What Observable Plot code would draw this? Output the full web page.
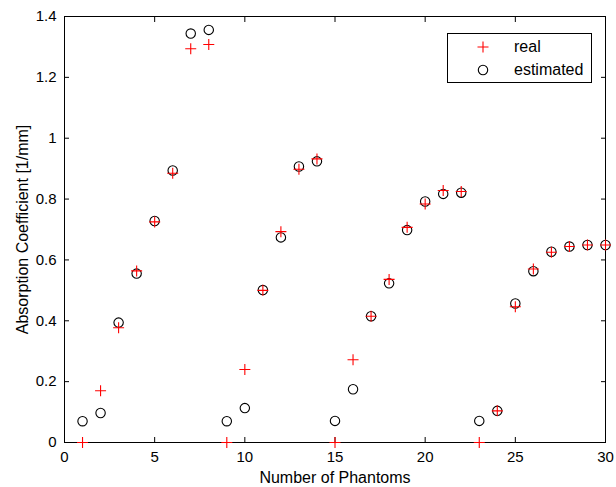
<!DOCTYPE html>
<html>
<head>
<meta charset="utf-8">
<script src="https://cdn.jsdelivr.net/npm/d3@7"></script>
<script src="https://cdn.jsdelivr.net/npm/@observablehq/plot@0.6"></script>
<style>
  html, body { margin: 0; padding: 0; background: #fff; }
  body { font-family: "Liberation Sans", Arial, Helvetica, sans-serif; color: #000; }
  #wrap { position: relative; width: 616px; height: 487px; }
  #legend { position: absolute; left: 447px; top: 33px; width: 143px; height: 48px;
            border: 1px solid #000; background: #fff; font-size: 16px; }
  #legend .row { position: absolute; left: 0; height: 20px; display: flex; align-items: center; }
  #legend svg { position: absolute; left: 25px; }
  #legend span { position: absolute; left: 66px; white-space: nowrap; line-height: 20px; }
</style>
</head>
<body>
<div id="wrap"></div>
<script>
// ---- data ----
const phantoms = [1,2,3,4,5,6,7,8,9,10,11,12,13,14,15,16,17,18,19,20,21,22,23,24,25,26,27,28,29,30];
const real = [0, 0.17, 0.377, 0.564, 0.725, 0.885, 1.294, 1.308, 0, 0.24,
              0.50, 0.693, 0.898, 0.932, 0, 0.272, 0.415, 0.536, 0.707, 0.784,
              0.828, 0.825, 0, 0.104, 0.446, 0.570, 0.625, 0.644, 0.649, 0.649];
const estimated = [0.070, 0.097, 0.394, 0.555, 0.728, 0.894, 1.344, 1.356, 0.070, 0.113,
                   0.501, 0.674, 0.907, 0.924, 0.071, 0.175, 0.415, 0.523, 0.698, 0.792,
                   0.817, 0.821, 0.071, 0.104, 0.457, 0.563, 0.627, 0.644, 0.649, 0.649];
const seriesNames = ["real", "estimated"];
const xTicks = [0, 5, 10, 15, 20, 25, 30];
const yTicks = [0, 0.2, 0.4, 0.6, 0.8, 1.0, 1.2, 1.4];
const yTickLabels = ["0", "0.2", "0.4", "0.6", "0.8", "1", "1.2", "1.4"];
const xLabel = "Number of Phantoms";
const yLabel = "Absorption Coefficient [1/mm]";

const realData = phantoms.map((p, i) => ({p, v: real[i]}));
const estData = phantoms.map((p, i) => ({p, v: estimated[i]}));

const plusSymbol = {
  draw(context, size) {
    const r = Math.sqrt(size / Math.PI);
    context.moveTo(-r, 0); context.lineTo(r, 0);
    context.moveTo(0, -r); context.lineTo(0, r);
  }
};

const fontFamily = '"Liberation Sans", Arial, Helvetica, sans-serif';

const chart = Plot.plot({
  width: 616,
  height: 487,
  marginLeft: 64,
  marginRight: 11,
  marginTop: 16,
  marginBottom: 45,
  style: { fontFamily, fontSize: "15px", background: "#fff", color: "#000" },
  x: { domain: [0, 30], ticks: xTicks },
  y: { domain: [0, 1.4], ticks: yTicks },
  marks: [
    Plot.frame({ stroke: "#000", strokeWidth: 1 }),
    // bottom axis: ticks + tick labels
    Plot.axisX(xTicks, { anchor: "bottom", tickSize: -5, tickPadding: 14, label: null, fontSize: 15 }),
    // bottom axis title
    Plot.axisX([], { anchor: "bottom", tickSize: 0, label: xLabel,
      labelAnchor: "center", labelArrow: "none", labelOffset: 40, fontSize: 16 }),
    Plot.axisX(xTicks, { anchor: "top", tickSize: -5, tickFormat: () => "", label: null }),
    // left axis: ticks + tick labels
    Plot.axisY(yTicks, { anchor: "left", tickSize: -5, tickPadding: 13,
      tickFormat: (d, i) => yTickLabels[i], label: null, fontSize: 15 }),
    // left axis title
    Plot.axisY([], { anchor: "left", tickSize: 0, label: yLabel,
      labelAnchor: "center", labelArrow: "none", labelOffset: 48, fontSize: 16 }),
    Plot.axisY(yTicks, { anchor: "right", tickSize: -5, tickFormat: () => "", label: null }),
    Plot.dot(estData, { x: "p", y: "v", r: 4.7, stroke: "#000", fill: "none", strokeWidth: 1.1 }),
    Plot.dot(realData, { x: "p", y: "v", r: 5.5, symbol: plusSymbol, stroke: "#ff0000", fill: "none", strokeWidth: 1.1 })
  ]
});
const wrap = document.getElementById("wrap");
wrap.appendChild(chart);

// legend (HTML overlay)
const legend = document.createElement("div");
legend.id = "legend";
const rows = [
  { name: seriesNames[0], svg: '<svg width="20" height="20" viewBox="-10 -10 20 20"><path d="M-5.5,0H5.5M0,-5.5V5.5" stroke="#ff0000" stroke-width="1.1" fill="none"/></svg>' },
  { name: seriesNames[1], svg: '<svg width="20" height="20" viewBox="-10 -10 20 20"><circle r="4.7" stroke="#000" stroke-width="1.1" fill="none"/></svg>' }
];
rows.forEach((r, i) => {
  const row = document.createElement("div");
  row.className = "row";
  row.style.top = (i === 0 ? 3 : 26) + "px";
  row.style.width = "143px";
  row.innerHTML = r.svg + "<span>" + r.name + "</span>";
  legend.appendChild(row);
});
wrap.appendChild(legend);
</script>
</body>
</html>
